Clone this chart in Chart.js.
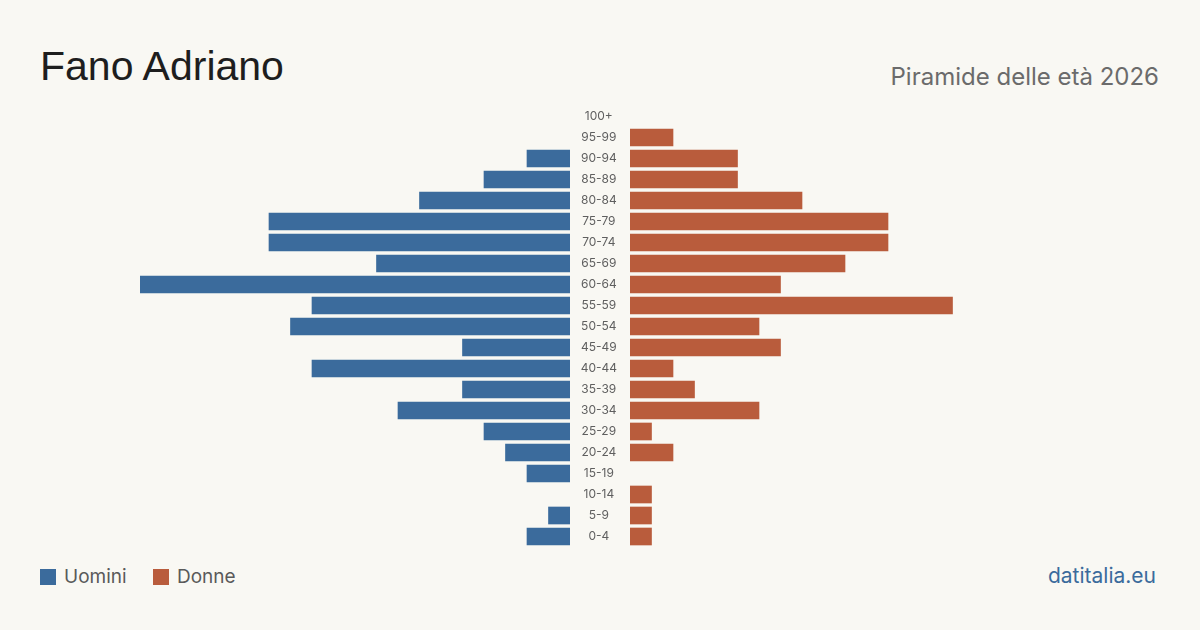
<!DOCTYPE html>
<html lang="it">
<head>
<meta charset="utf-8">
<title>Fano Adriano — Piramide delle età 2026</title>
<script src="https://cdn.jsdelivr.net/npm/chart.js@4"></script>
<style>
  html, body { margin: 0; padding: 0; }
  body { width: 1200px; height: 630px; background: #f9f8f3; position: relative; overflow: hidden; font-family: Inter, sans-serif; }
  #title { position: absolute; left: 40px; top: 42px; font: 41px "Liberation Sans", Arial, sans-serif; color: #1e1e1e; line-height: 48px; }
  #subtitle { position: absolute; right: 41px; top: 62px; font-size: 24px; color: #6b6b6b; line-height: 30px; }
  #men-wrap   { position: absolute; left: 140px; top: 106px; width: 430px; height: 441px; }
  #women-wrap { position: absolute; left: 570px; top: 106px; width: 490px; height: 441px; }
  .legend { position: absolute; top: 565px; font-size: 19px; color: #5a5a5a; line-height: 24px; }
  .legend span.sw { display: inline-block; width: 16px; height: 16px; vertical-align: -2px; margin-right: 8px; }
  #source { position: absolute; right: 44px; top: 563px; font-size: 21px; color: #3b6b9c; line-height: 26px; }
</style>
</head>
<body>
<div id="title">Fano Adriano</div>
<div id="subtitle">Piramide delle età 2026</div>
<div id="men-wrap"><canvas id="men"></canvas></div>
<div id="women-wrap"><canvas id="women"></canvas></div>
<div class="legend" style="left:40px"><span class="sw" style="background:#3b6b9c"></span>Uomini</div>
<div class="legend" style="left:153px"><span class="sw" style="background:#b95c3c"></span>Donne</div>
<div id="source">datitalia.eu</div>

<script>
'use strict';

// age classes, youngest first
const AGES = ['0-4','5-9','10-14','15-19','20-24','25-29','30-34','35-39','40-44','45-49',
              '50-54','55-59','60-64','65-69','70-74','75-79','80-84','85-89','90-94','95-99','100+'];
const MEN   = [2, 1, 0, 2, 3, 4, 8, 5, 12, 5, 13, 12, 20, 9, 14, 14, 7, 4, 2, 0, 0];
const WOMEN = [1, 1, 1, 0, 2, 1, 6, 3, 2, 7, 6, 15, 7, 10, 12, 12, 8, 5, 5, 2, 0];
const MAX = 20;

const BLUE = '#3b6b9c';
const RED  = '#b95c3c';

// zero rows get no bar at all (avoids a hairline)
const noZero = arr => arr.map(v => v || null);

function barOptions(reverseX, showLabels) {
  return {
    indexAxis: 'y',
    responsive: true,
    maintainAspectRatio: false,
    animation: false,
    layout: { padding: 0 },
    plugins: { legend: { display: false }, tooltip: { enabled: false } },
    scales: {
      x: { display: false, min: 0, max: MAX, reverse: reverseX },
      y: {
        display: showLabels,
        reverse: true,
        grid: { display: false, drawTicks: false, tickLength: 0 },
        border: { display: false },
        afterFit: s => {
          if (!showLabels) return;
          s.width = 60;
          s.paddingTop = 0;
          s.paddingBottom = 0;
        },
        ticks: {
          crossAlign: 'center',
          padding: 13,   // centres the labels in the 60px gap
          color: '#5f5f5f',
          font: { family: 'Inter', size: 12 }
        }
      }
    }
  };
}

new Chart(document.getElementById('men'), {
  type: 'bar',
  data: {
    labels: AGES,
    datasets: [{ label: 'Uomini', data: noZero(MEN), backgroundColor: BLUE, barThickness: 17 }]
  },
  options: barOptions(true, false)
});

new Chart(document.getElementById('women'), {
  type: 'bar',
  data: {
    labels: AGES,
    datasets: [{ label: 'Donne', data: noZero(WOMEN), backgroundColor: RED, barThickness: 17 }]
  },
  options: barOptions(false, true)
});
</script>
</body>
</html>
